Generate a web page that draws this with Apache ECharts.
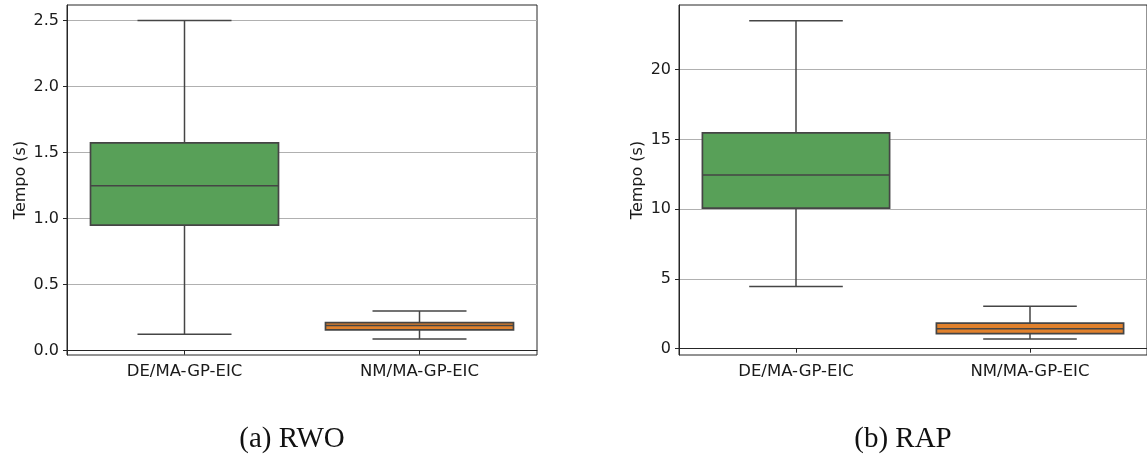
<!DOCTYPE html>
<html lang="pt">
<head>
    <meta charset="UTF-8">
    <title>Tempo RWO / RAP</title>
    <script src="https://cdn.jsdelivr.net/npm/echarts@6/dist/echarts.min.js"></script>
    <style>
        html, body { margin: 0; padding: 0; background: #fff; }
        #main { width: 1147px; height: 457px; }
    </style>
</head>
<body>
<div id="main"></div>

<script type="text/javascript">
    // categorias e estatísticas: [min, q1, mediana, q3, max]
    const categorias = ['DE/MA-GP-EIC', 'NM/MA-GP-EIC']
    const coresCaixa = ['#58a058', '#e1812c']

    const rwoDE = [0.124, 0.95, 1.248, 1.573, 2.5]
    const rwoNM = [0.089, 0.157, 0.19, 0.212, 0.30]
    const rapDE = [4.45, 10.07, 12.44, 15.47, 23.5]
    const rapNM = [0.70, 1.08, 1.43, 1.84, 3.04]

    const ticksRWO = [0, 0.5, 1.0, 1.5, 2.0, 2.5]
    const ticksRAP = [0, 5, 10, 15, 20]

    const legendas = ['(a) RWO', '(b) RAP']
</script>

<script type="text/javascript">
    const myChart = echarts.init(document.getElementById('main'), null, { renderer: 'canvas' })

    const corLinha = '#454545'
    const corTexto = '#1a1a1a'

    // desenha a caixa, mediana, bigodes e tampas usando as escalas do eixo
    function renderBox(params, api) {
        const cat = api.value(0)
        const lo = api.coord([cat, api.value(1)])
        const q1 = api.coord([cat, api.value(2)])
        const med = api.coord([cat, api.value(3)])
        const q3 = api.coord([cat, api.value(4)])
        const hi = api.coord([cat, api.value(5)])
        const banda = api.size([1, 0])[0]
        const cx = lo[0]
        const bw = banda * 0.8
        const cw = banda * 0.4
        const estilo = { stroke: corLinha, lineWidth: 1.5 }
        return {
            type: 'group',
            children: [
                { type: 'line', shape: { x1: cx, y1: q3[1], x2: cx, y2: hi[1] }, style: estilo },
                { type: 'line', shape: { x1: cx, y1: q1[1], x2: cx, y2: lo[1] }, style: estilo },
                { type: 'line', shape: { x1: cx - cw / 2, y1: hi[1], x2: cx + cw / 2, y2: hi[1] }, style: estilo },
                { type: 'line', shape: { x1: cx - cw / 2, y1: lo[1], x2: cx + cw / 2, y2: lo[1] }, style: estilo },
                {
                    type: 'rect',
                    shape: { x: cx - bw / 2, y: q3[1], width: bw, height: q1[1] - q3[1] },
                    style: { fill: coresCaixa[cat], stroke: corLinha, lineWidth: 1.7 }
                },
                { type: 'line', shape: { x1: cx - bw / 2, y1: med[1], x2: cx + bw / 2, y2: med[1] }, style: estilo }
            ]
        }
    }

    function eixoY(idx, min, max, ticks, nameGap, casas) {
        return {
            type: 'value',
            gridIndex: idx,
            min: min,
            max: max,
            name: 'Tempo (s)',
            nameLocation: 'middle',
            nameGap: nameGap,
            nameTextStyle: { fontFamily: 'DejaVu Sans', fontSize: 16, color: corTexto },
            axisLine: { show: true, lineStyle: { color: '#262626', width: 1 } },
            axisTick: { show: true, length: 4, customValues: ticks, lineStyle: { color: '#262626' } },
            axisLabel: {
                customValues: ticks,
                margin: 8,
                formatter: v => Number(v).toFixed(casas),
                fontFamily: 'DejaVu Sans', fontSize: 16, color: corTexto
            },
            splitLine: { show: true, lineStyle: { color: '#b0b0b0', width: 1 } }
        }
    }

    function eixoX(idx) {
        return {
            type: 'category',
            gridIndex: idx,
            data: categorias,
            axisLine: { show: true, lineStyle: { color: '#262626', width: 1 } },
            axisTick: { show: true, alignWithLabel: true, length: 4, lineStyle: { color: '#262626' } },
            axisLabel: { margin: 8, fontFamily: 'DejaVu Sans', fontSize: 16.5, color: corTexto },
            splitLine: { show: false }
        }
    }

    const estiloLegenda = { fontFamily: 'Liberation Serif', fontSize: 29, fontWeight: 'normal', color: '#111' }

    const option = {
        animation: false,
        backgroundColor: '#ffffff',
        grid: [
            { left: 67, top: 5, width: 470, height: 350, show: true, borderColor: '#262626', borderWidth: 1, backgroundColor: 'transparent' },
            { left: 679, top: 5, width: 469, height: 350, show: true, borderColor: '#262626', borderWidth: 1, backgroundColor: 'transparent' }
        ],
        xAxis: [eixoX(0), eixoX(1)],
        yAxis: [
            eixoY(0, -0.033, 2.617, ticksRWO, 38, 1),
            eixoY(1, -0.45, 24.63, ticksRAP, 33, 0)
        ],
        title: [
            { text: legendas[0], left: 287, top: 420, textAlign: 'center', textStyle: estiloLegenda },
            { text: legendas[1], left: 898, top: 420, textAlign: 'center', textStyle: estiloLegenda }
        ],
        series: [
            {
                type: 'custom',
                xAxisIndex: 0,
                yAxisIndex: 0,
                renderItem: renderBox,
                data: [[0].concat(rwoDE), [1].concat(rwoNM)]
            },
            {
                type: 'custom',
                xAxisIndex: 1,
                yAxisIndex: 1,
                renderItem: renderBox,
                data: [[0].concat(rapDE), [1].concat(rapNM)]
            }
        ]
    }

    myChart.setOption(option)
</script>
</body>
</html>
